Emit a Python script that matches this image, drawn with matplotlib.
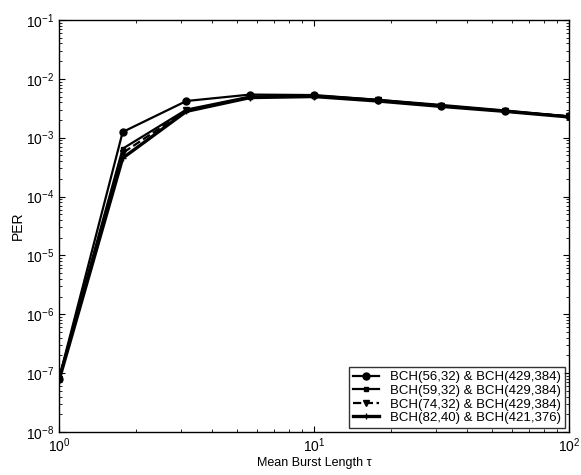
import numpy as np
import matplotlib
matplotlib.use("Agg")
import matplotlib.pyplot as plt

plt.rcParams['font.family'] = ['Liberation Sans', 'DejaVu Sans']
plt.rcParams['mathtext.fontset'] = 'custom'
plt.rcParams['mathtext.rm'] = 'Liberation Sans'

tau = [1.0, 1.778, 3.162, 5.623, 10.0, 17.78, 31.62, 56.23, 100.0]
per_56 = [8.0e-8, 1.25e-3, 4.2e-3, 5.4e-3, 5.3e-3, 4.4e-3, 3.5e-3, 2.8e-3, 2.3e-3]
per_59 = [8.0e-8, 6.5e-4, 3.0e-3, 5.0e-3, 5.2e-3, 4.4e-3, 3.6e-3, 2.9e-3, 2.3e-3]
per_74 = [8.0e-8, 5.5e-4, 2.9e-3, 4.9e-3, 5.1e-3, 4.3e-3, 3.5e-3, 2.8e-3, 2.3e-3]
per_82 = [7.5e-8, 4.5e-4, 2.8e-3, 4.8e-3, 5.0e-3, 4.2e-3, 3.4e-3, 2.8e-3, 2.25e-3]
labels = ["BCH(56,32) & BCH(429,384)", "BCH(59,32) & BCH(429,384)",
          "BCH(74,32) & BCH(429,384)", "BCH(82,40) & BCH(421,376)"]

fig = plt.figure(figsize=(5.81, 4.75), dpi=100)
ax = fig.add_axes([0.1015, 0.0905, 0.8775, 0.8675])

ax.plot(tau, per_56, "-o", color="black", lw=1.6, ms=5, label=labels[0])
ax.plot(tau, per_59, "-s", color="black", lw=1.6, ms=2.5, label=labels[1])
ax.plot(tau, per_74, "--v", color="black", lw=1.6, ms=4, label=labels[2])
ax.plot(tau, per_82, "-+", color="black", lw=2.4, ms=5, label=labels[3])

ax.set_xscale("log")
ax.set_yscale("log")
ax.set_xlim(1, 100)
ax.set_ylim(1e-8, 1e-1)
ax.set_xlabel("Mean Burst Length τ", fontsize=9, labelpad=1)
ax.set_ylabel("PER", fontsize=10, labelpad=1)
ax.tick_params(which="both", direction="in", top=True, right=True, labelsize=10)
ax.tick_params(which="major", length=4)
ax.tick_params(which="minor", length=2)
ax.yaxis.set_minor_locator(matplotlib.ticker.LogLocator(base=10, subs=np.arange(2, 10), numticks=20))
for s in ax.spines.values():
    s.set_linewidth(1.0)

leg = ax.legend(loc="lower right", fontsize=9.5, frameon=True, fancybox=False,
                edgecolor="black", borderaxespad=0.3, handlelength=2.0,
                labelspacing=0.1, borderpad=0.3)
leg.get_frame().set_linewidth(1.0)

fig.savefig("out.png", dpi=100)
